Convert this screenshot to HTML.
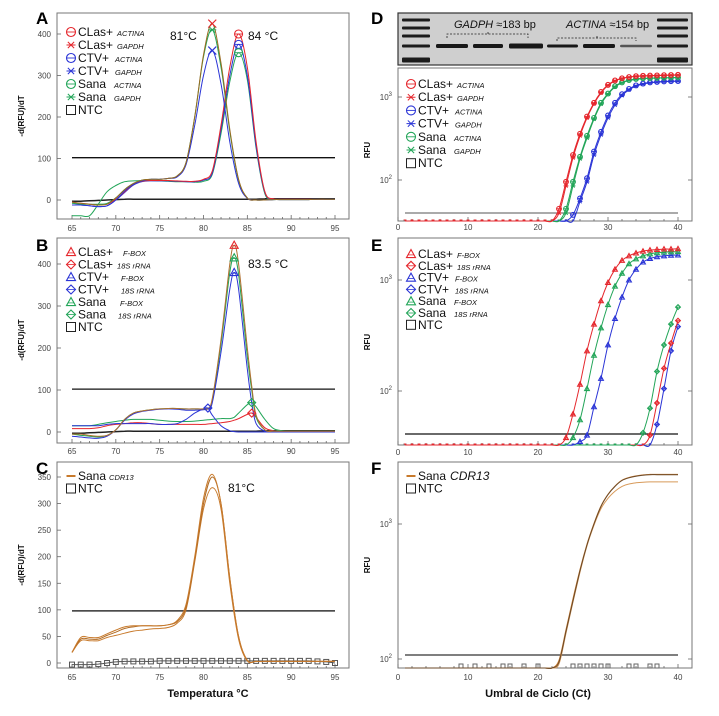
<!DOCTYPE html>
<html><head><meta charset="utf-8"><style>
html,body{margin:0;padding:0;background:#fff}
svg{display:block;font-family:"Liberation Sans",sans-serif}
</style></head><body>
<svg id="fig" width="719" height="716" viewBox="0 0 719 716" xmlns="http://www.w3.org/2000/svg"></svg>
<script>
// ---------- DATA ----------
const tempsA = [65,66,67,68,69,70,71,72,73,74,75,76,77,78,79,80,81,82,83,84,85,86,87,88,89,90,91,92,93,94,95];
const aRedG = [-5,-8,-10,-12,-10,5,25,40,48,50,50,52,58,90,200,350,425,330,170,50,5,0,0,1,1,1,1,1,2,2,2];
const aBluG = [-12,-12,-14,-16,-14,0,22,38,46,50,50,52,56,85,180,300,360,280,140,40,4,0,0,1,1,1,1,1,2,2,2];
const aGrnG = [-8,-10,-10,-10,-8,5,25,40,48,50,50,52,58,90,200,345,410,320,165,48,5,0,0,1,1,1,1,1,2,2,2];
const aRedA = [-5,-8,-10,-12,-10,2,20,38,45,47,47,47,46,45,45,50,70,180,320,400,320,140,20,3,2,2,2,2,2,2,2];
const aBluA = [-12,-12,-14,-16,-14,0,18,36,44,46,46,46,45,44,44,48,65,170,300,375,300,130,18,3,2,2,2,2,2,2,2];
const aGrnA = [-38,-38,-38,-10,20,35,44,46,47,47,46,45,44,44,43,45,62,160,285,355,290,125,15,3,2,2,2,2,2,2,2];
const aNtc  = [-3,-3,-2,-1,0,1,2,2,2,2,2,2,2,2,2,2,2,2,2,2,2,2,3,3,3,3,3,3,3,3,3];

const tempsB = [65,66,67,68,69,70,71,72,73,74,75,76,77,78,79,80,80.5,81,82,83,83.5,84,85,85.5,86,87,88,89,90,91,92,93,94,95];
const bRedF = [-5,-5,-8,-10,-8,5,30,45,50,53,55,56,56,55,55,55,56,80,220,400,445,400,200,110,40,5,2,2,2,2,2,2,2,2];
const bGrnF = [-5,-8,-10,-12,-8,5,30,45,50,53,55,56,56,55,55,55,56,75,210,380,415,375,180,100,35,5,2,2,2,2,2,2,2,2];
const bBluF = [-10,-12,-14,-15,-10,5,28,43,49,52,54,55,54,52,52,53,55,70,190,340,380,340,150,70,20,2,1,1,1,1,1,1,1,1];
const bRedS = [8,8,8,10,15,18,20,22,22,20,18,18,18,18,18,18,19,20,22,25,28,32,42,45,35,10,3,2,2,2,2,2,2,2];
const bGrnS = [15,15,15,18,22,25,28,30,30,30,28,26,25,25,26,28,29,30,32,32,35,45,65,70,60,30,8,3,2,2,2,2,2,2];
const bBluS = [15,15,15,15,18,20,20,20,20,20,18,18,20,30,45,55,57,40,15,3,1,0,0,0,0,0,0,0,0,0,0,0,0,0];
const bNtc  = [-3,-3,-2,-1,0,1,2,2,2,2,2,2,2,2,2,2,2,2,2,2,2,2,2,2,2,3,3,3,3,3,3,3,3,3];

const tempsC = tempsA;
const cS1 = [20,48,48,48,55,62,68,70,70,70,70,72,80,110,200,310,355,300,160,50,5,3,3,3,3,3,3,3,3,3,3];
const cS2 = [20,45,45,45,52,58,65,68,70,70,70,72,78,105,195,300,350,300,160,50,5,3,3,3,3,3,3,3,3,3,3];
const cS3 = [20,42,42,42,48,52,56,60,62,64,65,67,75,100,190,290,330,290,150,45,4,3,3,3,3,3,3,3,3,3,3];
const cNtc = [-3,-3,-3,-2,0,2,3,3,3,3,4,4,4,4,4,4,4,4,4,4,4,4,4,4,4,4,4,4,3,2,0];

const cycles = [1,2,3,4,5,6,7,8,9,10,11,12,13,14,15,16,17,18,19,20,21,22,23,24,25,26,27,28,29,30,31,32,33,34,35,36,37,38,39,40];
const dRedA = [20,20,20,20,20,20,20,20,20,20,20,20,20,20,20,20,20,20,20,20,20,20,45,95,200,360,580,850,1150,1400,1580,1680,1740,1780,1800,1810,1820,1830,1840,1850];
const dRedG = [20,20,20,20,20,20,20,20,20,20,20,20,20,20,20,20,20,20,20,20,20,20,40,85,185,340,560,830,1120,1380,1560,1670,1730,1770,1790,1800,1810,1820,1830,1840];
const dGrnA = [20,20,20,20,20,20,20,20,20,20,20,20,20,20,20,20,20,20,20,20,20,20,20,45,95,190,340,560,850,1100,1350,1500,1600,1650,1680,1690,1700,1710,1715,1720];
const dGrnG = [20,20,20,20,20,20,20,20,20,20,20,20,20,20,20,20,20,20,20,20,20,20,20,40,85,180,320,540,820,1080,1320,1480,1580,1630,1660,1680,1690,1700,1705,1710];
const dBluA = [20,20,20,20,20,20,20,20,20,20,20,20,20,20,20,20,20,20,20,20,20,20,20,20,38,60,105,220,380,600,850,1080,1250,1380,1450,1500,1520,1540,1550,1555];
const dBluG = [20,20,20,20,20,20,20,20,20,20,20,20,20,20,20,20,20,20,20,20,20,20,20,20,30,55,95,200,350,560,800,1040,1220,1350,1430,1480,1510,1530,1540,1550];

const eRedF = [20,20,20,20,20,20,20,20,20,20,20,20,20,20,20,20,20,20,20,20,20,20,20,38,62,115,230,400,650,950,1250,1500,1650,1750,1820,1860,1880,1900,1900,1910];
const eGrnF = [20,20,20,20,20,20,20,20,20,20,20,20,20,20,20,20,20,20,20,20,20,20,20,20,38,55,105,210,370,600,880,1150,1400,1550,1650,1720,1760,1780,1790,1800];
const eBluF = [20,20,20,20,20,20,20,20,20,20,20,20,20,20,20,20,20,20,20,20,20,20,20,20,20,35,40,72,130,260,450,700,1000,1250,1450,1560,1620,1650,1670,1680];
const eGrnS = [20,20,20,20,20,20,20,20,20,20,20,20,20,20,20,20,20,20,20,20,20,20,20,20,20,20,20,20,20,20,20,20,20,30,42,70,150,260,400,570];
const eRedS = [20,20,20,20,20,20,20,20,20,20,20,20,20,20,20,20,20,20,20,20,20,20,20,20,20,20,20,20,20,20,20,20,20,20,30,40,78,160,270,430];
const eBluS = [20,20,20,20,20,20,20,20,20,20,20,20,20,20,20,20,20,20,20,20,20,20,20,20,20,20,20,20,20,20,20,20,20,20,20,30,50,105,230,380];

const fS1 = [85,85,85,85,85,85,85,85,85,85,85,85,85,85,85,85,85,85,85,85,85,80,95,160,270,450,700,1000,1350,1650,1900,2100,2200,2260,2300,2320,2320,2320,2320,2320];
const fS2 = [85,85,85,85,85,85,85,85,85,85,85,85,85,85,85,85,85,85,85,85,85,82,98,165,280,460,710,1010,1360,1660,1910,2110,2210,2270,2310,2330,2330,2330,2330,2330];
const fS3 = [85,85,85,85,85,85,85,85,85,85,85,85,85,85,85,85,85,85,85,85,85,78,92,155,265,440,690,980,1300,1550,1750,1900,1980,2020,2040,2050,2050,2050,2050,2050];
const fNtcCycles = [9,11,13,15,16,18,20,25,26,27,28,29,30,33,34,36,37];

const meltTicks = [65,70,75,80,85,90,95];
const ampTicks = [0,10,20,30,40];
const yTicksA = [0,100,200,300,400];
const yTicksC = [0,50,100,150,200,250,300,350];

// ---------- HELPERS ----------
const NS = 'http://www.w3.org/2000/svg';
const svg = document.getElementById('fig');
function mk(tag, attrs, parent, text){
  const e = document.createElementNS(NS, tag);
  for (const k in attrs) e.setAttribute(k, attrs[k]);
  if (text !== undefined) e.textContent = text;
  (parent || svg).appendChild(e);
  return e;
}
const RED='#e5262c', BLU='#2a34d6', GRN='#22a558', ORG='#c87a2c';

function frame(name, x0, y0, x1, y1){
  const g = mk('g', {});
  
  
  mk('rect', {x:x0, y:y0, width:x1-x0, height:y1-y0, fill:'#fff', stroke:'#777', 'stroke-width':1}, g);
  return g;
}
function pathOf(xs, ys, fx, fy){
  const P = xs.map((x,i)=>[fx(x), fy(ys[i])]);
  let d = 'M'+P[0][0].toFixed(1)+','+P[0][1].toFixed(1);
  for (let i=0;i<P.length-1;i++){
    const p0=P[i-1]||P[i], p1=P[i], p2=P[i+1], p3=P[i+2]||p2;
    const c1x=p1[0]+(p2[0]-p0[0])/6, c1y=p1[1]+(p2[1]-p0[1])/6;
    const c2x=p2[0]-(p3[0]-p1[0])/6, c2y=p2[1]-(p3[1]-p1[1])/6;
    d+='C'+c1x.toFixed(1)+','+c1y.toFixed(1)+' '+c2x.toFixed(1)+','+c2y.toFixed(1)+' '+p2[0].toFixed(1)+','+p2[1].toFixed(1);
  }
  return d;
}
function marker(g, type, x, y, c, s){
  s = s || 3.5;
  if (type==='circ'){ mk('circle',{cx:x,cy:y,r:s,fill:'none',stroke:c,'stroke-width':1.1},g); mk('line',{x1:x-s,y1:y,x2:x+s,y2:y,stroke:c,'stroke-width':.9},g); }
  else if (type==='x'){ mk('path',{d:`M${x-s},${y-s}L${x+s},${y+s}M${x-s},${y+s}L${x+s},${y-s}`,stroke:c,'stroke-width':1.2},g); }
  else if (type==='ast'){ mk('path',{d:`M${x-s},${y}L${x+s},${y}M${x-s*.7},${y-s*.7}L${x+s*.7},${y+s*.7}M${x-s*.7},${y+s*.7}L${x+s*.7},${y-s*.7}`,stroke:c,'stroke-width':1},g); }
  else if (type==='tri'){ mk('path',{d:`M${x},${y-s}L${x+s},${y+s*.8}L${x-s},${y+s*.8}Z`,fill:'none',stroke:c,'stroke-width':1.1},g); mk('line',{x1:x-s*.6,y1:y+s*.2,x2:x+s*.6,y2:y+s*.2,stroke:c,'stroke-width':.8},g); }
  else if (type==='dia'){ mk('path',{d:`M${x},${y-s}L${x+s},${y}L${x},${y+s}L${x-s},${y}Z`,fill:'none',stroke:c,'stroke-width':1.1},g); mk('line',{x1:x-s,y1:y,x2:x+s,y2:y,stroke:c,'stroke-width':.8},g); }
  else if (type==='sq'){ mk('rect',{x:x-s,y:y-s,width:2*s,height:2*s,fill:'none',stroke:c,'stroke-width':1},g); }
  else if (type==='dash'){ mk('line',{x1:x-s,y1:y,x2:x+s,y2:y,stroke:c,'stroke-width':2},g); }
}
function legend(g, x, y, step, items){
  items.forEach((it,i)=>{
    const yy = y + i*step;
    const le = mk('g', {}, g);
    
    
    marker(le, it[0], x, yy, it[1], 4.5);
    const t = mk('text', {x:x+7, y:yy+4, 'font-size':12, fill:'#111'}, le, it[2]);
    if (it[3]) mk('tspan', {'font-size':it[5]||7.5, 'font-style':'italic', dx:it[4]||4}, t, it[3]);
  });
}
function meltAxes(g, x0, x1, yb, fx, fy, yt, labelY){
  meltTicks.forEach(t=>{
    mk('text',{x:fx(t),y:labelY,'font-size':8,fill:'#444','text-anchor':'middle'},g,String(t));
  });
  for (let t=65;t<=95;t++){ const l=t%5===0?4:2; mk('line',{x1:fx(t),y1:yb,x2:fx(t),y2:yb-l,stroke:'#666','stroke-width':.8},g); }
  yt.forEach(v=>{
    mk('text',{x:x0-6,y:fy(v)+3,'font-size':8,fill:'#444','text-anchor':'end'},g,String(v));
    mk('line',{x1:x0,y1:fy(v),x2:x0+4,y2:fy(v),stroke:'#666','stroke-width':.8},g);
  });
}
function line(g, xs, ys, fx, fy, c, w, name){
  const p = mk('path',{d:pathOf(xs,ys,fx,fy),fill:'none',stroke:c,'stroke-width':w||1},g);
  
  
  return p;
}
function peakMarker(g, xs, ys, fx, fy, type, c){
  let k=0; ys.forEach((v,i)=>{ if(v>ys[k]) k=i; });
  marker(g, type, fx(xs[k]), fy(ys[k]), c, 4);
}
function letter(ch, x, y){ const t=mk('text',{x:x,y:y,'font-size':17,'font-weight':'bold',fill:'#000'},svg,ch);   }
function yTitle(txt, x, y){ const t=mk('text',{x:x,y:y,'font-size':8,'font-weight':'bold',fill:'#111','text-anchor':'middle',transform:`rotate(-90 ${x} ${y})`},svg,txt);   }

// ---------- MELT PANELS ----------
const fxM = t => 72 + (t-65)*(263/30);
(function(){
  const g = frame('panel-a-melt-curve', 57, 13, 349, 219);
  const fy = v => 200 - v*0.415;
  meltAxes(g, 57, 349, 219, fxM, fy, yTicksA, 231);
  mk('line',{x1:fxM(65),y1:fy(102),x2:fxM(95),y2:fy(102),stroke:'#111','stroke-width':1.3},g);
  line(g,tempsA,aNtc,fxM,fy,'#222',1.5,'ntc-line');
  line(g,tempsA,aGrnA,fxM,fy,GRN,1,'sana-actina-line');
  line(g,tempsA,aBluA,fxM,fy,BLU,1,'ctv-actina-line');
  line(g,tempsA,aRedA,fxM,fy,RED,1,'clas-actina-line');
  line(g,tempsA,aGrnG,fxM,fy,GRN,1,'sana-gapdh-line');
  line(g,tempsA,aBluG,fxM,fy,BLU,1,'ctv-gapdh-line');
  line(g,tempsA,aRedG,fxM,fy,'#9a6a20',1,'clas-gapdh-line');
  peakMarker(g,tempsA,aRedG,fxM,fy,'x',RED);
  peakMarker(g,tempsA,aGrnG,fxM,fy,'ast',GRN);
  peakMarker(g,tempsA,aBluG,fxM,fy,'x',BLU);
  peakMarker(g,tempsA,aRedA,fxM,fy,'circ',RED);
  peakMarker(g,tempsA,aBluA,fxM,fy,'circ',BLU);
  peakMarker(g,tempsA,aGrnA,fxM,fy,'circ',GRN);
  mk('text',{x:170,y:40,'font-size':12,fill:'#111'},g,'81°C');
  mk('text',{x:248,y:40,'font-size':12,fill:'#111'},g,'84 °C');
  legend(g,71,32,13,[['circ',RED,'CLas+','ACTINA'],['ast',RED,'CLas+','GAPDH'],['circ',BLU,'CTV+','ACTINA',6],['ast',BLU,'CTV+','GAPDH',6],['circ',GRN,'Sana','ACTINA',8],['ast',GRN,'Sana','GAPDH',8],['sq','#222','NTC']]);
})();
(function(){
  const g = frame('panel-b-melt-curve', 57, 238, 349, 443);
  const fy = v => 432 - v*0.42;
  meltAxes(g, 57, 349, 443, fxM, fy, yTicksA, 454);
  mk('line',{x1:fxM(65),y1:fy(102),x2:fxM(95),y2:fy(102),stroke:'#111','stroke-width':1.3},g);
  line(g,tempsB,bNtc,fxM,fy,'#222',1.5,'ntc-line');
  line(g,tempsB,bRedS,fxM,fy,RED,1,'clas-18s-line');
  line(g,tempsB,bGrnS,fxM,fy,GRN,1,'sana-18s-line');
  line(g,tempsB,bBluS,fxM,fy,BLU,1,'ctv-18s-line');
  line(g,tempsB,bGrnF,fxM,fy,GRN,1,'sana-fbox-line');
  line(g,tempsB,bBluF,fxM,fy,BLU,1,'ctv-fbox-line');
  line(g,tempsB,bRedF,fxM,fy,'#b07030',1,'clas-fbox-line');
  peakMarker(g,tempsB,bRedF,fxM,fy,'tri',RED);
  peakMarker(g,tempsB,bGrnF,fxM,fy,'tri',GRN);
  peakMarker(g,tempsB,bBluF,fxM,fy,'tri',BLU);
  peakMarker(g,tempsB,bRedS,fxM,fy,'dia',RED);
  peakMarker(g,tempsB,bGrnS,fxM,fy,'dia',GRN);
  peakMarker(g,tempsB,bBluS,fxM,fy,'dia',BLU);
  mk('text',{x:248,y:268,'font-size':12,fill:'#111'},g,'83.5 °C');
  legend(g,71,252,12.5,[['tri',RED,'CLas+','F-BOX',10],['dia',RED,'CLas+','18S rRNA',4],['tri',BLU,'CTV+','F-BOX',12],['dia',BLU,'CTV+','18S rRNA',12],['tri',GRN,'Sana','F-BOX',14],['dia',GRN,'Sana','18S rRNA',12],['sq','#222','NTC']]);
})();
(function(){
  const g = frame('panel-c-melt-curve', 57, 462, 349, 668);
  const fy = v => 663 - v*(186/350);
  meltAxes(g, 57, 349, 668, fxM, fy, yTicksC, 680);
  mk('line',{x1:fxM(65),y1:fy(98),x2:fxM(95),y2:fy(98),stroke:'#333','stroke-width':1.5},g);
  line(g,tempsC,cNtc,fxM,fy,'#555',1,'ntc-line');
  tempsC.forEach((t,i)=>marker(g,'sq',fxM(t),fy(cNtc[i]),'#555',2.5));
  line(g,tempsC,cS3,fxM,fy,ORG,1,'sana-cdr13-line-3');
  line(g,tempsC,cS2,fxM,fy,'#b06a22',1,'sana-cdr13-line-2');
  line(g,tempsC,cS1,fxM,fy,ORG,1,'sana-cdr13-line-1');
  mk('text',{x:228,y:492,'font-size':12,fill:'#111'},g,'81°C');
  legend(g,71,476,12.5,[['dash',ORG,'Sana','CDR13',3],['sq','#222','NTC']]);
  const t = mk('text',{x:208,y:697,'font-size':11,'font-weight':'bold',fill:'#111','text-anchor':'middle'},svg,'Temperatura °C');
   
})();

// ---------- AMPLIFICATION PANELS ----------
const fxA = c => 398 + c*7;
function ampAxes(g, yb, fy, labelY, top){
  ampTicks.forEach(c=>mk('text',{x:fxA(c),y:labelY,'font-size':8,fill:'#444','text-anchor':'middle'},g,String(c)));
  for (let c=0;c<=40;c+=2){ mk('line',{x1:fxA(c),y1:yb,x2:fxA(c),y2:yb-(c%10===0?4:2),stroke:'#666','stroke-width':.8},g); }
  [100,1000].forEach(v=>{
    const y=fy(v); if (y<top) return;
    const t=mk('text',{x:392,y:y+3,'font-size':8,fill:'#444','text-anchor':'end'},g,'10');
    mk('tspan',{'font-size':6,dy:-4},t,v===100?'2':'3');
    mk('line',{x1:398,y1:y,x2:402,y2:y,stroke:'#666','stroke-width':.8},g);
    mk('line',{x1:688,y1:y,x2:692,y2:y,stroke:'#666','stroke-width':.8},g);
  });
}
function ampSeries(g, ys, fy, c, mtype, name, base){
  line(g,cycles,ys,fxA,fy,c,1,name);
  if (mtype) cycles.forEach((cy,i)=>{
    const y=fy(ys[i]);
    if (y>=base-0.5) mk('line',{x1:fxA(cy)-1.2,y1:base-1,x2:fxA(cy)+1.2,y2:base-1,stroke:c,'stroke-width':1},g);
    else marker(g,mtype,fxA(cy),y,c,2.4);
  });
}
(function(){
  const gel = mk('g',{});
  
  
  mk('rect',{x:398,y:13,width:294,height:52,fill:'#cfcfcf',stroke:'#333','stroke-width':1.2},gel);
  [[402,430],[657,688]].forEach(l=>[20,28,36,46,59].forEach((y,i)=>mk('rect',{x:l[0],y:y-1.5,width:l[1]-l[0],height:i===4?5:3,fill:'#1c1c1c',rx:1},gel)));
  [[436,468,4],[473,503,4],[509,543,5],[547,578,3],[583,615,4],[620,652,2.5]].forEach(b=>mk('rect',{x:b[0],y:46-b[2]/2,width:b[1]-b[0],height:b[2],fill:b[2]<3?'#555':'#181818',rx:1.5},gel));
  const t1=mk('text',{x:454,y:28,'font-size':11,fill:'#111'},gel); mk('tspan',{'font-style':'italic'},t1,'GADPH'); mk('tspan',{},t1,' ≈183 bp');
  const t2=mk('text',{x:566,y:28,'font-size':11,fill:'#111'},gel); mk('tspan',{'font-style':'italic'},t2,'ACTINA'); mk('tspan',{},t2,' ≈154 bp');
  mk('path',{d:'M447,38V34H528V38M488,34V32M557,41V38H636V41M597,38V35',fill:'none',stroke:'#222','stroke-width':.8,'stroke-dasharray':'2,1.5'},gel);

  const g = frame('panel-d-amplification', 398, 68, 692, 221);
  const fy = v => Math.min(221, 180 - (Math.log10(v)-2)*83);
  ampAxes(g, 221, fy, 230, 68);
  mk('line',{x1:fxA(1),y1:213,x2:fxA(40),y2:213,stroke:'#555','stroke-width':1},g);
  ampSeries(g,dBluG,fy,BLU,'ast','ctv-gapdh-line',221);
  ampSeries(g,dBluA,fy,BLU,'circ','ctv-actina-line',221);
  ampSeries(g,dGrnG,fy,GRN,'ast','sana-gapdh-line',221);
  ampSeries(g,dGrnA,fy,GRN,'circ','sana-actina-line',221);
  ampSeries(g,dRedG,fy,RED,'ast','clas-gapdh-line',221);
  ampSeries(g,dRedA,fy,RED,'circ','clas-actina-line',221);
  legend(g,411,84,13.2,[['circ',RED,'CLas+','ACTINA'],['ast',RED,'CLas+','GAPDH'],['circ',BLU,'CTV+','ACTINA',6],['ast',BLU,'CTV+','GAPDH',6],['circ',GRN,'Sana','ACTINA',8],['ast',GRN,'Sana','GAPDH',8],['sq','#222','NTC']]);
})();
(function(){
  const g = frame('panel-e-amplification', 398, 238, 692, 445);
  const fy = v => Math.min(445, 391 - (Math.log10(v)-2)*111);
  ampAxes(g, 445, fy, 455, 238);
  mk('line',{x1:fxA(1),y1:434,x2:fxA(40),y2:434,stroke:'#111','stroke-width':1.2},g);
  ampSeries(g,eBluS,fy,BLU,'dia','ctv-18s-line',445);
  ampSeries(g,eRedS,fy,RED,'dia','clas-18s-line',445);
  ampSeries(g,eGrnS,fy,GRN,'dia','sana-18s-line',445);
  ampSeries(g,eBluF,fy,BLU,'tri','ctv-fbox-line',445);
  ampSeries(g,eGrnF,fy,GRN,'tri','sana-fbox-line',445);
  ampSeries(g,eRedF,fy,RED,'tri','clas-fbox-line',445);
  legend(g,411,254,11.8,[['tri',RED,'CLas+','F-BOX'],['dia',RED,'CLas+','18S rRNA'],['tri',BLU,'CTV+','F-BOX',6],['dia',BLU,'CTV+','18S rRNA',6],['tri',GRN,'Sana','F-BOX',8],['dia',GRN,'Sana','18S rRNA',8],['sq','#222','NTC']]);
})();
(function(){
  const g = frame('panel-f-amplification', 398, 462, 692, 668);
  const fy = v => Math.min(668, 659 - (Math.log10(v)-2)*135);
  ampAxes(g, 668, fy, 680, 462);
  mk('line',{x1:fxA(1),y1:655,x2:fxA(40),y2:655,stroke:'#333','stroke-width':1.3},g);
  fNtcCycles.forEach(c=>marker(g,'sq',fxA(c),666,'#666',2));
  ampSeries(g,fS3,fy,'#d89a5a',null,'sana-cdr13-line-3',668);
  ampSeries(g,fS2,fy,ORG,null,'sana-cdr13-line-2',668);
  ampSeries(g,fS1,fy,'#6b4a2a',null,'sana-cdr13-line-1',668);
  legend(g,411,476,12.5,[['dash',ORG,'Sana','CDR13',4,12],['sq','#222','NTC']]);
  const t = mk('text',{x:538,y:697,'font-size':11,'font-weight':'bold',fill:'#111','text-anchor':'middle'},svg,'Umbral de Ciclo (Ct)');
   
})();

letter('A',36,24); letter('B',36,251); letter('C',36,474);
letter('D',371,24); letter('E',371,251); letter('F',371,474);
yTitle('-d(RFU)/dT',24,116); yTitle('-d(RFU)/dT',24,340); yTitle('-d(RFU)/dT',24,565);
yTitle('RFU',370,150); yTitle('RFU',370,342); yTitle('RFU',370,565);
</script>
</body></html>
